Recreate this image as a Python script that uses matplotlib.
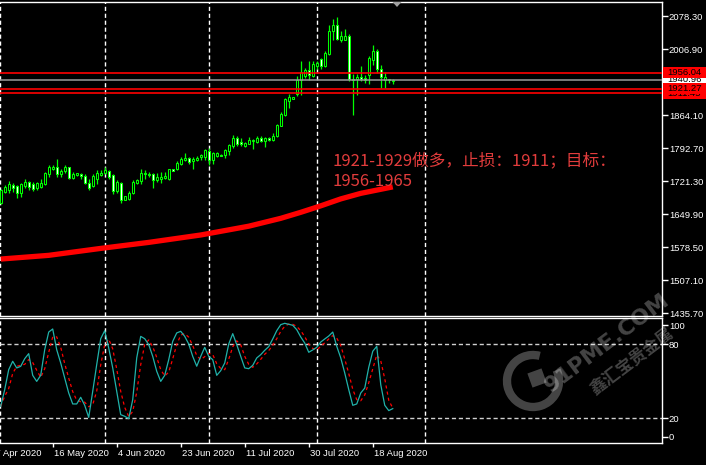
import matplotlib
matplotlib.use("Agg")
import matplotlib.pyplot as plt
from matplotlib.patches import Rectangle, Polygon, Arc
from matplotlib.transforms import IdentityTransform, Affine2D
import numpy as np

plt.rcParams['font.family'] = ['Liberation Sans', 'DejaVu Sans']

# daily candles (XAUUSD)
opens = [1675, 1698, 1702, 1713, 1711, 1696, 1711, 1720, 1715, 1706,
         1709, 1716, 1736, 1747, 1751, 1736, 1744, 1752, 1729, 1734,
         1736, 1733, 1718, 1711, 1726, 1735, 1739, 1743, 1734, 1701,
         1718, 1681, 1682, 1696, 1718, 1721, 1739, 1737, 1736, 1723,
         1727, 1728, 1725, 1747, 1748, 1759, 1768, 1772, 1765, 1768,
         1773, 1773, 1786, 1768, 1776, 1778, 1777, 1786, 1798, 1814,
         1806, 1798, 1802, 1809, 1807, 1815, 1809, 1814, 1811, 1818,
         1841, 1864, 1895, 1900, 1909, 1940, 1948, 1961, 1948, 1971,
         1986, 1970, 1996, 2046, 2059, 2027, 2026, 2036, 1943, 1942,
         1946, 1944, 1950, 1984, 2002, 1963, 1941, 1942, 1938]
highs = [1704, 1713, 1722, 1718, 1713, 1718, 1727, 1722, 1720, 1720,
         1725, 1741, 1756, 1757, 1770, 1748, 1757, 1753, 1741, 1740,
         1739, 1736, 1725, 1736, 1745, 1745, 1751, 1746, 1736, 1723,
         1720, 1690, 1700, 1723, 1727, 1748, 1746, 1741, 1738, 1738,
         1741, 1741, 1748, 1748, 1766, 1773, 1782, 1773, 1774, 1775,
         1779, 1791, 1793, 1784, 1784, 1780, 1791, 1801, 1821, 1820,
         1814, 1805, 1816, 1812, 1820, 1820, 1816, 1816, 1825, 1845,
         1870, 1902, 1909, 1904, 1948, 1982, 1966, 1982, 1982, 1981,
         1988, 2002, 2059, 2071, 2077, 2045, 2050, 2040, 1952, 1953,
         1970, 1950, 1991, 2016, 2006, 1973, 1957, 1943, 1943]
lows = [1672, 1696, 1696, 1698, 1684, 1688, 1706, 1703, 1700, 1703,
        1706, 1713, 1731, 1745, 1731, 1731, 1738, 1725, 1725, 1733,
        1725, 1716, 1702, 1709, 1715, 1732, 1736, 1727, 1694, 1696,
        1674, 1680, 1680, 1693, 1715, 1716, 1726, 1731, 1706, 1720,
        1718, 1725, 1723, 1743, 1746, 1757, 1765, 1758, 1748, 1766,
        1768, 1768, 1757, 1759, 1773, 1775, 1772, 1777, 1793, 1797,
        1797, 1795, 1801, 1791, 1804, 1806, 1795, 1809, 1808, 1816,
        1840, 1863, 1880, 1898, 1906, 1907, 1945, 1940, 1946, 1963,
        1963, 1968, 1995, 2027, 2026, 2023, 2026, 1937, 1864, 1907,
        1938, 1933, 1931, 1973, 1956, 1923, 1923, 1933, 1931]
closes = [1702, 1709, 1716, 1706, 1695, 1716, 1720, 1708, 1704, 1718,
          1718, 1738, 1752, 1752, 1736, 1744, 1752, 1729, 1736, 1739,
          1732, 1718, 1706, 1733, 1739, 1740, 1746, 1731, 1701, 1720,
          1681, 1689, 1696, 1720, 1723, 1739, 1736, 1734, 1723, 1731,
          1730, 1733, 1747, 1744, 1761, 1770, 1771, 1763, 1770, 1772,
          1778, 1788, 1768, 1783, 1782, 1776, 1788, 1800, 1814, 1802,
          1802, 1803, 1811, 1811, 1815, 1808, 1814, 1811, 1820, 1843,
          1866, 1898, 1904, 1903, 1941, 1957, 1961, 1950, 1975, 1977,
          1970, 1998, 2046, 2059, 2028, 2036, 2036, 1943, 1941, 1947,
          1943, 1940, 1988, 2002, 1963, 1947, 1946, 1939, 1940.96]

# thick red moving average, sampled at a few bars
ma_bars = [0, 12, 25, 37, 50, 62, 70, 75, 80, 85, 90, 98]
ma_vals = [1553, 1561, 1576, 1589, 1605, 1624, 1641, 1654, 1668, 1683, 1695, 1709]

# stochastic %K and signal
stoch_k = [29.5, 43, 59.2, 66, 60.6, 61.9, 68.1, 72.2, 54.6, 49.7,
           54.6, 75.4, 89.7, 92.2, 75.4, 64.6, 52.4, 40.3, 31.4, 31.4,
           36.8, 30.3, 20.5, 41.6, 63.3, 84.3, 90.8, 76.8, 60.6, 41.6,
           22.7, 21.4, 19.5, 34.9, 68.7, 86.2, 84.3, 79.5, 70, 57.9,
           49.7, 54.6, 67.3, 82.2, 89, 90.3, 86.2, 80, 70, 62,
           70, 77.3, 70, 67.3, 54.6, 58.4, 64.6, 80, 88.4, 79.5,
           70, 60.6, 60, 62.7, 68.7, 71.4, 74.9, 77.9, 84.1, 90.8,
           95.7, 96.8, 96, 95.2, 91.6, 85.7, 80.8, 73.3, 75.2, 77.3,
           81.6, 84.1, 86.5, 89.7, 78.1, 68.7, 56.5, 43, 30.3, 31.4,
           40.3, 44.3, 61.1, 74.1, 78.1, 47, 30.3, 26, 27.6]
stoch_d = [29.5, 37.6, 43.9, 56.1, 61.9, 62.8, 63.5, 67.4, 65, 58.8,
           53, 59.9, 73.2, 85.8, 85.8, 77.4, 64.1, 52.4, 41.4, 34.4,
           33.2, 32.8, 29.2, 30.8, 41.8, 63.1, 79.5, 84, 76.1, 59.7,
           41.6, 28.6, 21.2, 25.3, 41, 63.3, 79.7, 83.3, 77.9, 69.1,
           59.2, 54.1, 57.2, 68, 79.5, 87.2, 88.5, 85.5, 78.7, 70.7,
           67.3, 69.8, 72.4, 71.5, 64, 60.1, 59.2, 67.7, 77.7, 82.6,
           79.3, 70, 63.5, 61.1, 63.8, 67.6, 71.7, 74.7, 79, 84.3,
           90.2, 94.4, 96.2, 96, 94.3, 90.8, 86, 79.9, 76.4, 75.3,
           78, 81, 84.1, 86.8, 84.8, 78.8, 67.8, 56.1, 43.3, 34.9,
           34, 38.7, 48.6, 59.8, 71.1, 66.4, 51.8, 34.4, 28]

price_ticks = [2078.30, 2006.90, 1864.10, 1792.70, 1721.30, 1649.90, 1578.50, 1507.10, 1435.70]
date_bars = [-3, 13, 29, 45, 61, 77, 93]
date_labels = ['27 Apr 2020', '16 May 2020', '4 Jun 2020', '23 Jun 2020',
               '11 Jul 2020', '30 Jul 2020', '18 Aug 2020']
grid_bars = [-0.2, 26.1, 52.1, 79.1, 106.1]

W, H = 706, 465
fig = plt.figure(figsize=(W / 100, H / 100), dpi=100, facecolor='black')
PIX = IdentityTransform()


def frame(x0, y0, x1, y1):
    return [x0 / W, 1 - y1 / H, (x1 - x0) / W, (y1 - y0) / H]


ax = fig.add_axes(frame(0, 2, 662, 316))
ax2 = fig.add_axes(frame(0, 318, 662, 443))
for a in (ax, ax2):
    a.set_facecolor('black')
    for s in a.spines.values():
        s.set_color('white')
        s.set_linewidth(1)
    a.spines['left'].set_visible(False)
    a.set_xlim(-0.175, 165.3)
    for g in grid_bars:
        a.axvline(g, color='white', lw=1, ls=(0, (3, 2)), zorder=1)

GREEN = '#00ff00'
x = np.arange(len(opens))
o = np.array(opens)
c = np.array(closes)
ax.vlines(x, lows, highs, color=GREEN, lw=0.9, zorder=3)
fills = ['black' if cc >= oo else 'white' for oo, cc in zip(o, c)]
ax.bar(x, np.abs(c - o), bottom=np.minimum(o, c), width=0.55, color=fills,
       edgecolor=GREEN, linewidth=0.75, zorder=4)

ax.plot(ma_bars, ma_vals, color='red', lw=3.8, solid_capstyle='butt',
        solid_joinstyle='round', zorder=2)

for lvl in (1956.04, 1921.27, 1911.43):
    ax.axhline(lvl, color='red', lw=1.2, zorder=5)
ax.axhline(1940.96, color='#9a9a9a', lw=1.1, zorder=5)

ax.set_ylim(1429.9, 2108.6)
ax.set_xticks([])
ax.yaxis.tick_right()
ax.set_yticks(price_ticks)
ax.set_yticklabels(['%.2f' % p for p in price_ticks])
ax.tick_params(axis='y', colors='white', length=4, width=1, pad=1, labelsize=6.8)

# oscillator
ax2.set_ylim(-0.27, 101.1)
for lvl in (80, 20):
    ax2.axhline(lvl, color='#d0d0d0', lw=1, ls=(0, (3, 2)), zorder=1)
ax2.plot(x, stoch_k, color='#20b2aa', lw=0.9, zorder=3)
ax2.plot(x, stoch_d, color='red', lw=0.9, ls=(0, (2.5, 2.5)), zorder=2)
ax2.yaxis.tick_right()
ax2.set_yticks([95.2, 80, 20, 4.8])
ax2.set_yticklabels(['100', '80', '20', '0'])
ax2.tick_params(axis='y', colors='white', length=4, width=1, pad=1, labelsize=6.8)
ax2.set_xticks([b for b in date_bars if b >= 0])
ax2.set_xticklabels([])
ax2.tick_params(axis='x', colors='white', length=3, width=1)

fig.canvas.draw()
for b, lab in zip(date_bars, date_labels):
    xd = ax2.transData.transform((b, 0))[0]
    fig.text(xd + 1, H - 453, lab, transform=PIX, color='white',
             fontsize=6.8, va='center', ha='left')

# price boxes on the right scale
boxes = [(1911.43, '1911.45', 'red'), (1940.96, '1940.96', 'white'),
         (1921.27, '1921.27', 'red'), (1956.04, '1956.04', 'red')]
for i, (p, lab, col) in enumerate(boxes):
    yd = ax.transData.transform((0, p))[1]
    fig.add_artist(Rectangle((662.5, yd - 5.5), 44, 11, transform=PIX,
                             facecolor=col, edgecolor='none', zorder=10 + 2 * i))
    fig.text(667, yd, lab, transform=PIX, color='black',
             fontsize=6.8, va='center', ha='left', zorder=11 + 2 * i)

# annotation
txt_font = ['Noto Sans CJK SC', 'DejaVu Sans']
fig.text(333 / W, 1 - 165 / H, '1921-1929做多，止损：1911；目标：', color='#e23c3c',
         fontsize=12, family=txt_font, va='baseline')
fig.text(333 / W, 1 - 185.7 / H, '1956-1965', color='#e23c3c',
         fontsize=12, family=txt_font, va='baseline')

# chart shift marker
fig.add_artist(Polygon([[392.5, H - 2], [401.5, H - 2], [397, H - 7]], closed=True,
                       transform=PIX, facecolor='#a0a0a0', edgecolor='none'))

# watermark
wm = dict(color='white', alpha=0.27, zorder=30)
fig.add_artist(Arc((533, H - 381), 52, 52, theta1=75, theta2=385, lw=6, transform=PIX, **wm))
sq = Rectangle((-7.5, -7.5), 15, 15, lw=0, facecolor='white', alpha=0.27, zorder=30,
               transform=Affine2D().rotate_deg(20).translate(537, H - 378))
fig.add_artist(sq)
fig.text(607 / W, 1 - 343 / H, '91PME.COM', rotation=37, fontsize=16, fontweight='bold',
         ha='center', va='center', family=['DejaVu Sans'], **wm)
fig.text(632 / W, 1 - 362 / H, '鑫汇宝贵金属', rotation=37, fontsize=12, fontweight='bold',
         ha='center', va='center', family=txt_font, **wm)

fig.savefig('out.png', dpi=100, facecolor='black')
